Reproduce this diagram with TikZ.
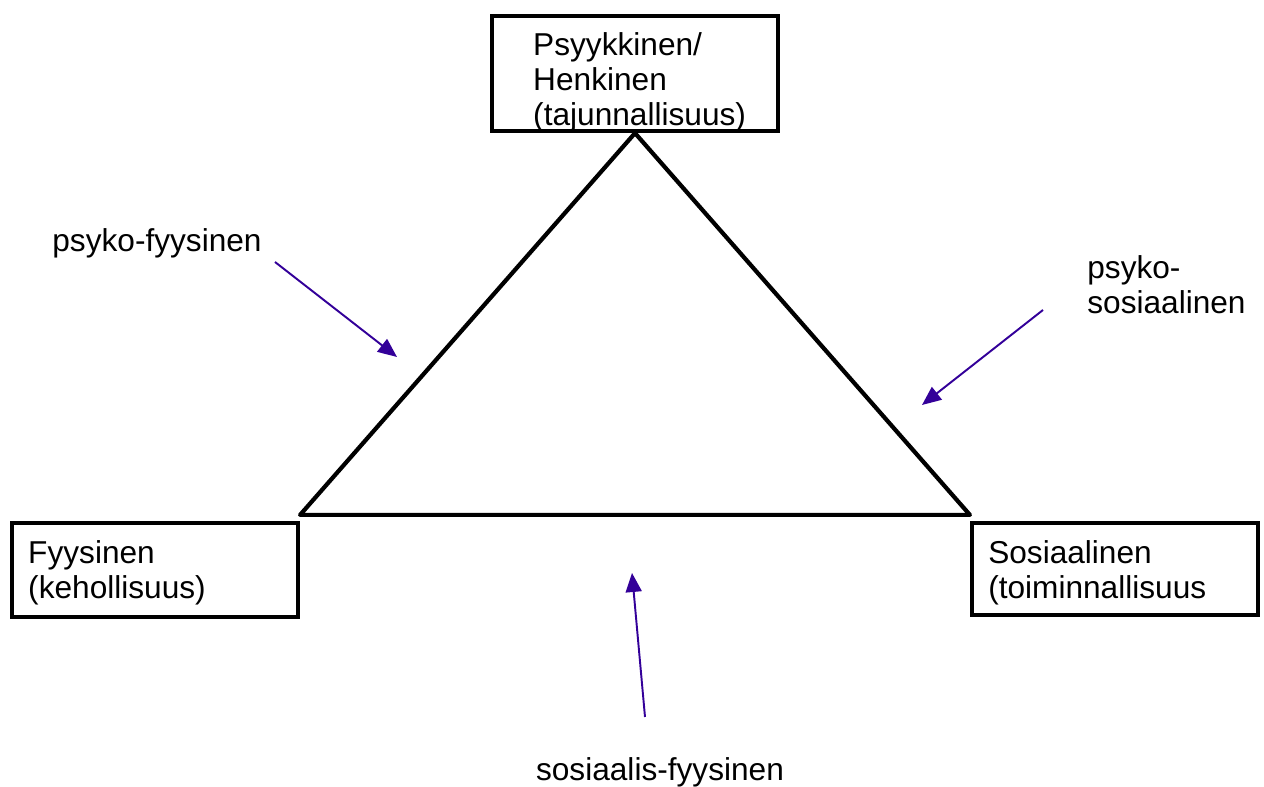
\documentclass[tikz,border=0pt]{standalone}
\usepackage{fontspec}
\setmainfont{Liberation Sans}
\usetikzlibrary{arrows.meta, positioning, calc}
\definecolor{arrowpurple}{HTML}{330099}
\tikzset{
  catbox/.style={draw=black, fill=white, line width=2.4pt,
              minimum width=5.72cm, inner sep=0pt},
  cattext/.style={anchor=north west, align=left, inner sep=0pt,
              font=\fontsize{18}{20}\selectfont},
  sidelabel/.style={align=left, inner sep=0pt,
              font=\fontsize{18}{20}\selectfont},
  pointer/.style={-{Triangle[length=0.38cm, width=0.32cm]},
              draw=arrowpurple, line width=1.1pt},
}

\begin{document}
\begin{tikzpicture}
  \useasboundingbox (0,0) rectangle (25.28,15.74);

  % Corner boxes
  \node[catbox, minimum height=2.3cm]  (psy) at (12.7,14.27) {};
  \node[catbox, minimum height=1.88cm] (fys) at (3.1,4.34) {};
  \node[catbox, minimum height=1.84cm] (sos) at (22.3,4.36) {};

  \node[cattext] (psytext) at ([xshift=0.86cm, yshift=-0.36cm]psy.north west)
    {Psyykkinen/\\Henkinen\\(tajunnallisuus)};
  \node[cattext] (fystext) at ([xshift=0.36cm, yshift=-0.38cm]fys.north west)
    {Fyysinen\\(kehollisuus)};
  \node[cattext] (sostext) at ([xshift=0.36cm, yshift=-0.38cm]sos.north west)
    {Sosiaalinen\\(toiminnallisuus};

  % Triangle
  \draw[line width=2.4pt, line join=round] (psy.south)
    -- ([yshift=0.12cm]fys.north east)
    -- ([yshift=0.12cm]sos.north west) -- cycle;

  % Side labels
  \node[sidelabel] (pf) at (3.14,10.88) {psyko-fyysinen};
  \node[sidelabel, anchor=west] (ps) at (21.74,10.04) {psyko-\\sosiaalinen};
  \node[sidelabel] (sf) at (13.2,0.3) {sosiaalis-fyysinen};

  % Arrow ends
  \coordinate (pfstart) at (5.5,10.5);
  \coordinate (pfend)   at (7.94,8.6);
  \coordinate (psstart) at (20.86,9.54);
  \coordinate (psend)   at (18.44,7.64);
  \coordinate (sfstart) at (12.9,1.4);
  \coordinate (sfend)   at (12.64,4.28);

  % Arrows
  \draw[pointer] (pfstart) -- (pfend);
  \draw[pointer] (psstart) -- (psend);
  \draw[pointer] (sfstart) -- (sfend);
\end{tikzpicture}
\end{document}
